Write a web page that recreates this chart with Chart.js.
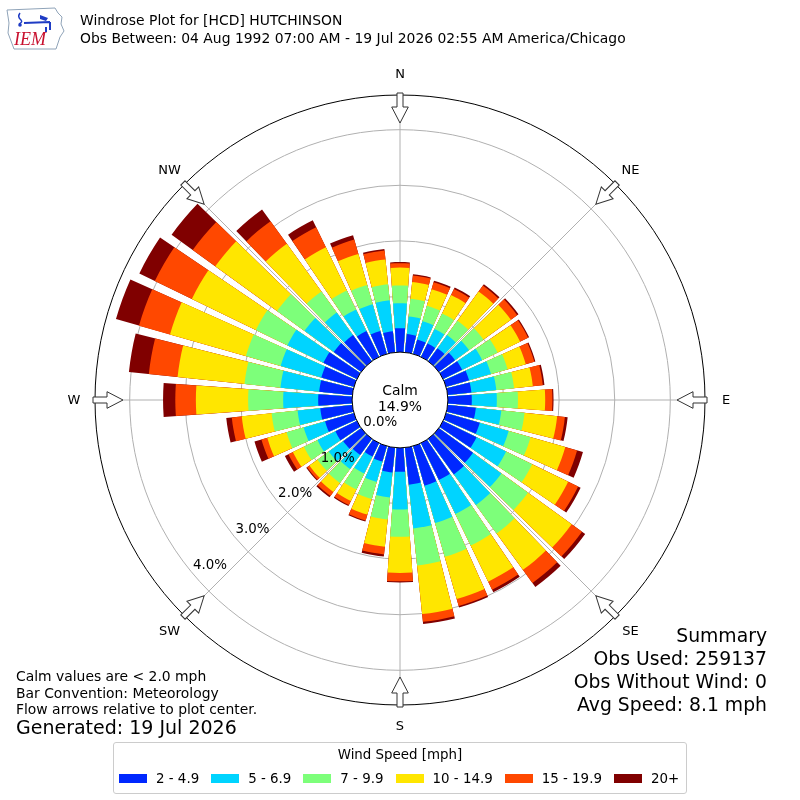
<!DOCTYPE html>
<html>
<head>
<meta charset="utf-8">
<title>Windrose HCD</title>
<script src="https://cdn.jsdelivr.net/npm/chart.js@4.4.1/dist/chart.umd.min.js"></script>
<style>
  html, body { margin: 0; padding: 0; background: #fff; }
  body { width: 800px; height: 800px; position: relative; overflow: hidden; font-family: "DejaVu Sans", sans-serif; color: #000; }
  #rose { position: absolute; left: 0; top: 0; }
  .txt { position: absolute; white-space: nowrap; }
  #legend { position: absolute; left: 113px; top: 742px; width: 572px; height: 50px; border: 1px solid #cccccc; border-radius: 3px; font-size: 13.4px; background: #fff; white-space: nowrap; }
  #legend .ttl { position: absolute; left: 0; right: 0; top: 4px; line-height: 16px; text-align: center; }
  #legend .row { position: absolute; left: 5px; top: 27px; display: flex; align-items: center; line-height: 17px; }
  #legend .item { display: flex; align-items: center; margin-right: 12px; flex: none; }
  #legend .sw { width: 28px; height: 9px; margin-right: 9px; flex: none; }
</style>
</head>
<body>
<canvas id="rose" width="800" height="800"></canvas>

<svg class="txt" style="left:0;top:0" width="70" height="52">
  <path d="M7 10 L55 8 L58 13 L62 17 L61 24 L64 31 L60 37 L58 43 L56 49 L14 49 L11 41 L8 33 L9 23 Z" fill="none" stroke="#8fa3b8" stroke-width="1"/>
  <path d="M20 13 Q17 17 21 20 Q23 22 19 24" fill="none" stroke="#1f3cc4" stroke-width="1.5"/>
  <circle cx="20" cy="25" r="1.8" fill="#1f3cc4"/>
  <path d="M24 23 L50 22 M50 22 L50 30 M46 27 L46 32" stroke="#1f3cc4" stroke-width="2"/>
  <path d="M40 15 L48 18 L46 21 L40 19 Z" fill="#1f3cc4"/>
  <text x="14" y="45" font-family="Liberation Serif" font-style="italic" font-size="18" fill="#c8102e">IEM</text>
</svg>

<div class="txt" style="left:80px; top:12px; font-size:13.9px; line-height:17.5px;">Windrose Plot for [HCD] HUTCHINSON<br>Obs Between: 04 Aug 1992 07:00 AM - 19 Jul 2026 02:55 AM America/Chicago</div>

<div class="txt" style="left:16px; top:668px; font-size:13.9px; line-height:16.5px;">Calm values are &lt; 2.0 mph<br>Bar Convention: Meteorology<br>Flow arrows relative to plot center.</div>
<div class="txt" style="left:16px; top:716px; font-size:19px; line-height:22px;">Generated: 19 Jul 2026</div>

<div class="txt" style="right:33px; top:625px; font-size:18.8px; line-height:22.9px; text-align:right;">Summary<br>Obs Used: 259137<br>Obs Without Wind: 0<br>Avg Speed: 8.1 mph</div>

<div id="legend">
  <div class="ttl">Wind Speed [mph]</div>
  <div class="row" id="legendRow"></div>
</div>

<script>
// direction bins (deg, meteorological: wind coming from)
const directions = [0, 10, 20, 30, 40, 50, 60, 70, 80, 90, 100, 110, 120, 130, 140, 150, 160, 170,
                    180, 190, 200, 210, 220, 230, 240, 250, 260, 270, 280, 290, 300, 310, 320, 330, 340, 350];
const compassLabels = ['N', 'NE', 'E', 'SE', 'S', 'SW', 'W', 'NW'];
const speedBins = ['2 - 4.9', '5 - 6.9', '7 - 9.9', '10 - 14.9', '15 - 19.9', '20+'];
const binColors = ['#0028ff', '#00d4ff', '#7dff7a', '#ffe600', '#ff4800', '#800000'];

// percent of obs in each speed bin, per direction
const pct_2_5 = [0.43, 0.33, 0.27, 0.27, 0.29, 0.36, 0.38, 0.43, 0.43, 0.43, 0.51, 0.63, 0.67, 0.76, 0.79, 0.74, 0.74, 0.67,
                 0.43, 0.45, 0.29, 0.27, 0.36, 0.40, 0.43, 0.54, 0.58, 0.61, 0.60, 0.61, 0.67, 0.61, 0.58, 0.52, 0.43, 0.38];
const pct_5_7 = [0.45, 0.32, 0.34, 0.29, 0.29, 0.31, 0.40, 0.41, 0.45, 0.45, 0.46, 0.54, 0.59, 0.63, 0.68, 0.68, 0.70, 0.79,
                 0.68, 0.45, 0.38, 0.34, 0.31, 0.32, 0.36, 0.40, 0.41, 0.63, 0.70, 0.76, 0.72, 0.65, 0.50, 0.43, 0.50, 0.56];
const pct_7_10 = [0.32, 0.32, 0.29, 0.31, 0.32, 0.32, 0.31, 0.31, 0.32, 0.38, 0.42, 0.41, 0.52, 0.59, 0.63, 0.63, 0.63, 0.67,
                  0.49, 0.40, 0.32, 0.32, 0.31, 0.25, 0.27, 0.32, 0.47, 0.63, 0.65, 0.65, 0.63, 0.61, 0.47, 0.38, 0.36, 0.29];
const pct_10_15 = [0.32, 0.30, 0.31, 0.37, 0.65, 0.61, 0.45, 0.34, 0.34, 0.49, 0.59, 0.65, 0.72, 0.97, 0.81, 0.72, 0.79, 0.88,
                   0.65, 0.49, 0.29, 0.23, 0.20, 0.18, 0.22, 0.36, 0.54, 0.94, 1.21, 1.42, 1.28, 1.37, 1.06, 0.86, 0.58, 0.45];
const pct_15_20 = [0.08, 0.12, 0.13, 0.12, 0.13, 0.14, 0.16, 0.16, 0.18, 0.13, 0.14, 0.22, 0.20, 0.23, 0.29, 0.16, 0.13, 0.14,
                   0.15, 0.14, 0.11, 0.08, 0.09, 0.05, 0.09, 0.11, 0.18, 0.37, 0.52, 0.58, 0.74, 0.50, 0.50, 0.40, 0.27, 0.16];
const pct_20p = [0.02, 0.02, 0.03, 0.03, 0.03, 0.03, 0.02, 0.02, 0.03, 0.02, 0.05, 0.11, 0.05, 0.07, 0.09, 0.05, 0.03, 0.04,
                 0.02, 0.04, 0.02, 0.02, 0.03, 0.02, 0.07, 0.13, 0.10, 0.22, 0.36, 0.43, 0.31, 0.47, 0.26, 0.14, 0.08, 0.03];

const rTicks = [0, 1, 2, 3, 4];
const calmPct = 14.9;

const binSeries = [pct_2_5, pct_5_7, pct_7_10, pct_10_15, pct_15_20, pct_20p];

// stacked = cumulative totals, outer bins drawn first, inner ones on top
const cumulative = binSeries.map((_, b) =>
  directions.map((d, i) => binSeries.slice(0, b + 1).reduce((s, arr) => s + arr[i], 0)));

// each 10 deg sector: 8.2 deg bar + 1.8 deg gap; north bar is split in two halves around 0
const BAR = 8.2, GAP = 10 - BAR;
function sectorData(vals) {
  const out = [vals[0]];
  for (let i = 1; i < vals.length; i++) out.push(0, vals[i]);
  out.push(0, vals[0]);
  return out;
}
const nEl = directions.length * 2 + 1;
const sliceAngle = c => {
  const i = c.dataIndex;
  if (i === 0 || i === nEl - 1) return BAR / 2;
  return i % 2 ? GAP : BAR;
};

const datasets = cumulative.map((vals, b) => ({
  label: speedBins[b],
  data: sectorData(vals),
  angle: sliceAngle,
  backgroundColor: c => (c.dataIndex % 2 ? 'rgba(0,0,0,0)' : binColors[b]),
  borderWidth: 0
}));

function drawArrow(ctx, scale, i) {
  const R = scale.drawingArea;
  const tail = scale.getPointPosition(i, R + 2);
  const tip = scale.getPointPosition(i, R - 28);
  const ang = Math.atan2(tip.y - tail.y, tip.x - tail.x);
  ctx.save();
  ctx.translate(tail.x, tail.y);
  ctx.rotate(ang);
  ctx.beginPath();
  ctx.moveTo(0, -3); ctx.lineTo(14, -3); ctx.lineTo(14, -8.3); ctx.lineTo(30, 0);
  ctx.lineTo(14, 8.3); ctx.lineTo(14, 3); ctx.lineTo(0, 3); ctx.closePath();
  ctx.fillStyle = '#fff';
  ctx.fill();
  ctx.strokeStyle = '#333';
  ctx.lineWidth = 1;
  ctx.stroke();
  ctx.restore();
}

const roseDecor = {
  id: 'roseDecor',
  afterDatasetsDraw(chart) {
    const r = chart.scales.r, ctx = chart.ctx;
    const cx = r.xCenter, cy = r.yCenter;
    const r0 = r.getDistanceFromCenterForValue(0);
    ctx.save();
    // calm hole
    ctx.beginPath();
    ctx.arc(cx, cy, r0, 0, Math.PI * 2);
    ctx.fillStyle = '#fff';
    ctx.fill();
    ctx.lineWidth = 1;
    ctx.strokeStyle = '#000';
    ctx.stroke();
    ctx.fillStyle = '#000';
    ctx.textAlign = 'center';
    ctx.textBaseline = 'middle';
    ctx.font = '13.9px "DejaVu Sans"';
    ctx.fillText('Calm', cx, cy - 9);
    ctx.fillText(calmPct.toFixed(1) + '%', cx, cy + 7.5);
    // ring labels, along ~230 deg
    const a = 230 * Math.PI / 180;
    ctx.font = '13.4px "DejaVu Sans"';
    rTicks.forEach(v => {
      const d = r.getDistanceFromCenterForValue(v);
      ctx.fillText(v.toFixed(1) + '%', cx + d * Math.sin(a) + 17, cy - d * Math.cos(a) - 8.5);
    });
    // compass labels and flow arrows
    ctx.font = '13px "DejaVu Sans"';
    compassLabels.forEach((lab, i) => {
      const p = r.getPointPosition(i, r.drawingArea + 21);
      ctx.fillText(lab, p.x, p.y + 1);
      drawArrow(ctx, r, i);
    });
    ctx.restore();
  }
};

new Chart(document.getElementById('rose'), {
  type: 'polarArea',
  data: { labels: compassLabels, datasets: datasets },
  options: {
    responsive: false,
    animation: false,
    layout: { padding: { left: 95, right: 95, top: 95, bottom: 95 } },
    plugins: { legend: { display: false }, tooltip: { enabled: false } },
    scales: {
      r: {
        min: -0.8615,
        max: 4.624,
        startAngle: 0,
        ticks: { display: false },
        afterBuildTicks: s => { s.ticks = rTicks.concat([s.max]).map(v => ({ value: v })); },
        grid: {
          circular: true,
          lineWidth: 1,
          color: c => (c.tick && c.tick.value === c.scale.max ? '#000' : '#b0b0b0')
        },
        angleLines: { display: true, color: '#b0b0b0', lineWidth: 1 },
        pointLabels: { display: false }
      }
    }
  },
  plugins: [roseDecor]
});

// legend built from the same bins
const row = document.getElementById('legendRow');
speedBins.forEach((lab, b) => {
  const it = document.createElement('div');
  it.className = 'item';
  it.innerHTML = '<span class="sw" style="background:' + binColors[b] + '"></span><span>' + lab + '</span>';
  row.appendChild(it);
});
</script>
</body>
</html>
